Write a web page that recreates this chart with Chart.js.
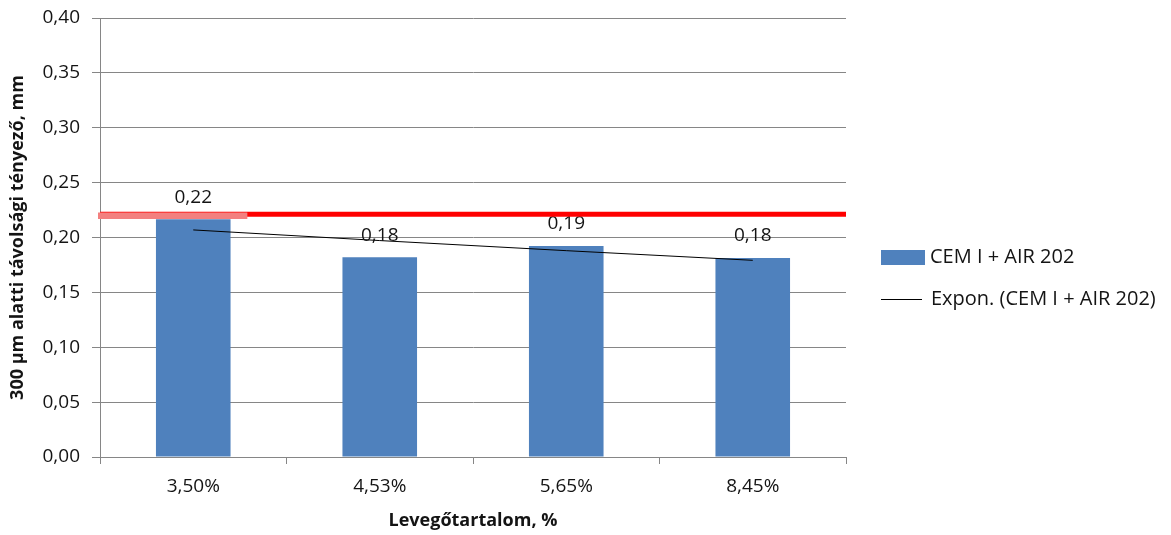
<!DOCTYPE html>
<html>
<head>
<meta charset="utf-8">
<script src="https://cdn.jsdelivr.net/npm/chart.js@4/dist/chart.umd.min.js"></script>
<style>
  html, body { margin: 0; padding: 0; background: #ffffff; }
  #wrap { width: 1171px; height: 535px; }
</style>
</head>
<body>
<div id="wrap"><canvas id="c" width="1171" height="535"></canvas></div>
<script>
// Air content categories and measured spacing factors
const categories = ['3,50%', '4,53%', '5,65%', '8,45%'];
const spacingValues = [0.2166, 0.182, 0.1923, 0.1813];
// Exponential trendline values at each category
const trendValues = [0.2069, 0.1972, 0.1880, 0.1792];
// Limit line and its short highlighted segment
const limitValue = 0.2212;
const limitHighlightValue = 0.2198;
const yTicks = [0, 0.05, 0.10, 0.15, 0.20, 0.25, 0.30, 0.35, 0.40];

const seriesName = 'CEM I + AIR 202';
const trendName = 'Expon. (CEM I + AIR 202)';
const xTitle = 'Levegőtartalom, %';
const yTitle = '300 μm alatti távolsági tényező, mm';

const FONT = '"Open Sans", Lato, sans-serif';
const FS = 19;        // tick and value labels
const FS_LEGEND = 20;
const FS_TITLE = 18;
const GRID = '#868686';
const BAR = '#4f81bd';
const TEXT = '#141414';

const fmt = v => v.toFixed(2).replace('.', ',');

const overlay = {
  id: 'overlay',
  afterDatasetsDraw(chart) {
    const ctx = chart.ctx;
    const area = chart.chartArea;
    const x = chart.scales.x, y = chart.scales.y;
    const meta = chart.getDatasetMeta(0);
    ctx.save();
    // value labels above bars
    ctx.font = FS + 'px ' + FONT;
    ctx.fillStyle = TEXT;
    ctx.textAlign = 'center';
    ctx.textBaseline = 'middle';
    meta.data.forEach((el, i) => {
      ctx.fillText(fmt(spacingValues[i]), el.x, el.y - 22);
    });
    // limit line
    const ly = y.getPixelForValue(limitValue);
    ctx.strokeStyle = '#ff0000';
    ctx.lineWidth = 5;
    ctx.beginPath();
    ctx.moveTo(area.left, ly);
    ctx.lineTo(area.right, ly);
    ctx.stroke();
    const hy = y.getPixelForValue(limitHighlightValue);
    ctx.strokeStyle = '#f3807f';
    ctx.lineWidth = 6.5;
    ctx.beginPath();
    ctx.moveTo(x.getPixelForValue(-0.5) - 2, hy);
    ctx.lineTo(x.getPixelForValue(0.29), hy);
    ctx.stroke();
    ctx.restore();
  },
  afterDraw(chart) {
    const ctx = chart.ctx;
    const area = chart.chartArea;
    const lx = area.right + 35;
    ctx.save();
    ctx.font = FS_LEGEND + 'px ' + FONT;
    ctx.textAlign = 'left';
    ctx.textBaseline = 'middle';
    // legend: bar series
    ctx.fillStyle = BAR;
    ctx.fillRect(lx, 250, 44, 15);
    ctx.fillStyle = TEXT;
    ctx.fillText(seriesName, lx + 49, 257);
    // legend: trendline
    ctx.strokeStyle = '#000000';
    ctx.lineWidth = 1;
    ctx.beginPath();
    ctx.moveTo(lx, 299.5);
    ctx.lineTo(lx + 41, 299.5);
    ctx.stroke();
    ctx.fillText(trendName, lx + 50, 299);
    ctx.restore();
  }
};

new Chart(document.getElementById('c'), {
  data: {
    labels: categories,
    datasets: [
      {
        type: 'bar',
        label: seriesName,
        data: spacingValues,
        backgroundColor: BAR,
        categoryPercentage: 1,
        barPercentage: 0.4,
        order: 2
      },
      {
        type: 'line',
        label: trendName,
        data: trendValues,
        borderColor: '#000000',
        borderWidth: 1,
        pointRadius: 0,
        fill: false,
        tension: 0,
        order: 1
      }
    ]
  },
  options: {
    responsive: false,
    animation: false,
    layout: { padding: { top: 18, right: 325, bottom: 0, left: 0 } },
    plugins: {
      legend: { display: false },
      tooltip: { enabled: false }
    },
    scales: {
      x: {
        type: 'category',
        offset: true,
        grid: {
          offset: true,
          drawOnChartArea: true,
          color: c => (c.index === categories.length ? GRID : 'rgba(0,0,0,0)'),
          tickColor: GRID,
          tickLength: 7,
          lineWidth: 1
        },
        border: { color: GRID, width: 1 },
        ticks: {
          font: { family: FONT, size: FS },
          color: TEXT,
          padding: 11,
          maxRotation: 0
        },
        title: {
          display: true,
          text: xTitle,
          font: { family: FONT, size: FS_TITLE, weight: 'bold' },
          color: TEXT,
          padding: { top: 0, bottom: 3 }
        },
        afterFit: s => {
          s.height = 78;
          s.paddingLeft = 0;
          s.paddingRight = 0;
        }
      },
      y: {
        type: 'linear',
        min: 0,
        max: 0.4,
        afterBuildTicks: s => { s.ticks = yTicks.map(v => ({ value: v })); },
        grid: {
          color: GRID,
          tickColor: GRID,
          tickLength: 8,
          lineWidth: 1
        },
        border: { color: GRID, width: 1 },
        ticks: {
          font: { family: FONT, size: FS },
          color: TEXT,
          padding: 12,
          callback: v => fmt(v)
        },
        title: {
          display: true,
          text: yTitle,
          font: { family: FONT, size: FS_TITLE, weight: 'bold' },
          color: TEXT,
          padding: { top: 7, bottom: 0 }
        },
        afterFit: s => {
          s.width = 100;
          s.paddingTop = 0;
          s.paddingBottom = 0;
        }
      }
    }
  },
  plugins: [overlay]
});
</script>
</body>
</html>
